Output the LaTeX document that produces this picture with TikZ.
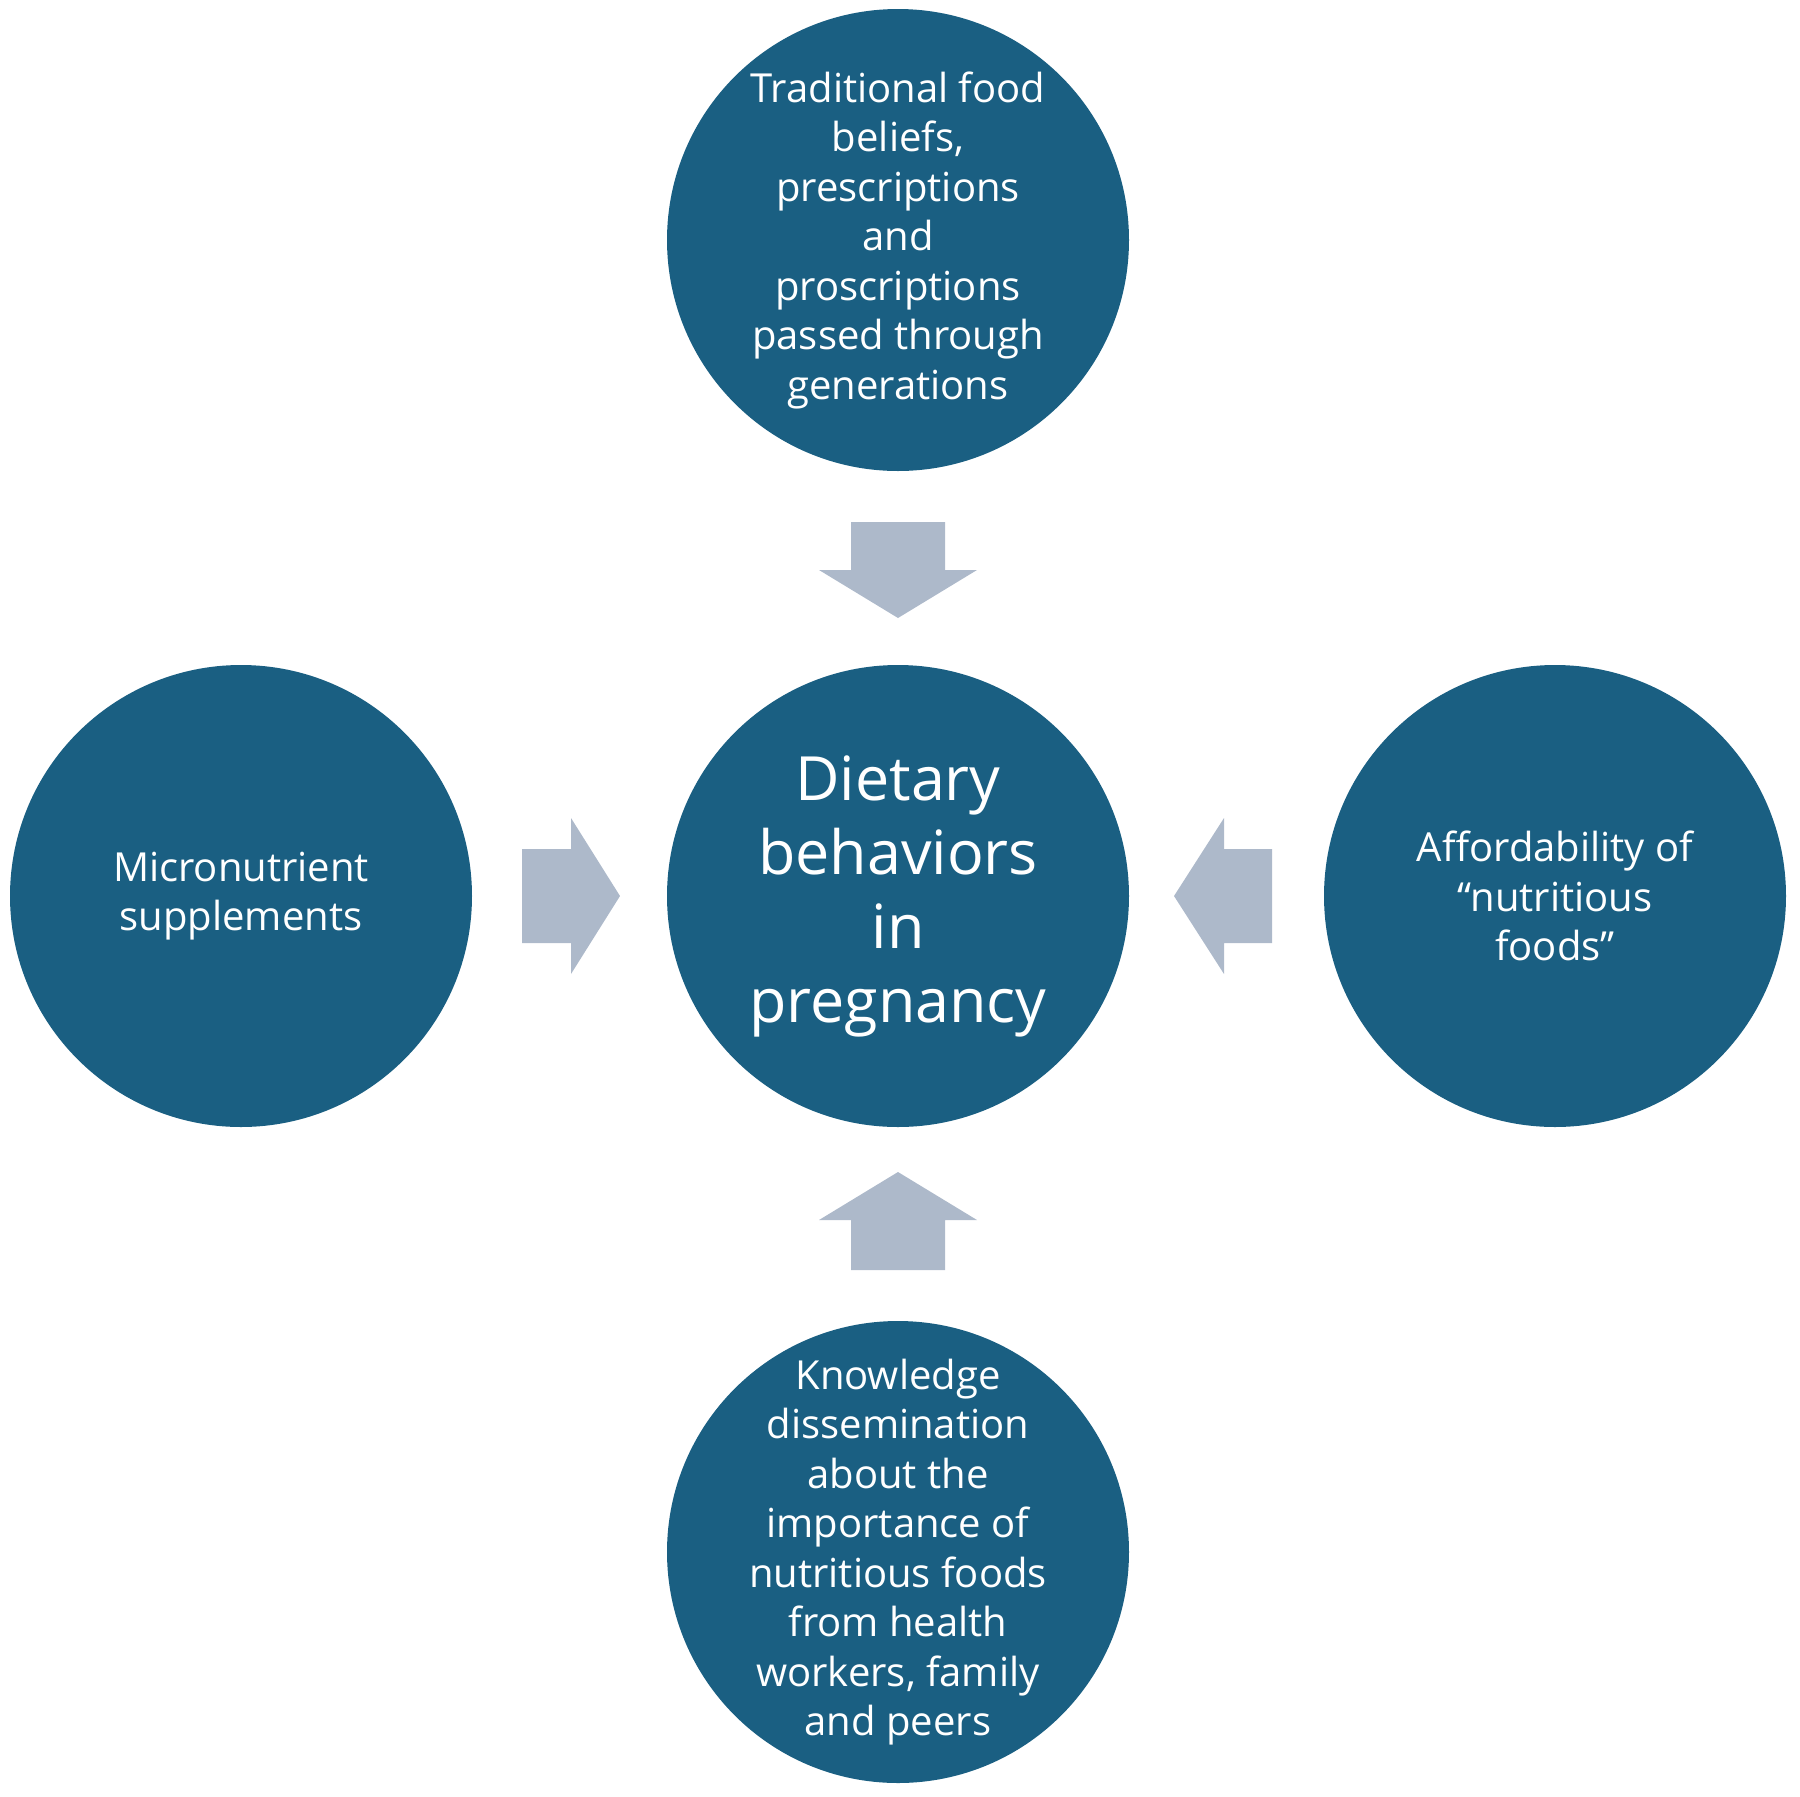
\documentclass[tikz,border=0pt]{standalone}
\usepackage{fontspec}
\setmainfont{Open Sans}
\definecolor{circ}{HTML}{1A5F82}
\definecolor{arr}{HTML}{ADB9CA}
\begin{document}
\begin{tikzpicture}[x=1pt,y=-1pt,
  bubble/.style={circle,fill=circ,minimum size=462pt,inner sep=0pt},
  bubbletext/.style={text=white,align=center,inner sep=0pt,
    font=\fontsize{40}{49.5}\selectfont},
  bigtext/.style={font=\fontsize{61}{74}\selectfont},
  blockarrow/.style={fill=arr}]
\useasboundingbox (0,0) rectangle (1800,1797);
\node[bubble] (top) at (898,240) {};
\node[bubble] (mid) at (898,896) {};
\node[bubble] (left) at (241,896) {};
\node[bubble] (right) at (1555,896) {};
\node[bubble] (bot) at (898,1552) {};
\node[bubbletext] (toptext) at (top) {Traditional food\\beliefs,\\prescriptions\\and\\proscriptions\\passed through\\generations};
\node[bubbletext,bigtext] (midtext) at (mid) {Dietary\\behaviors\\in\\pregnancy};
\node[bubbletext] (lefttext) at (left) {Micronutrient\\supplements};
\node[bubbletext] (righttext) at (right) {Affordability of\\“nutritious\\foods”};
\node[bubbletext] (bottext) at (bot) {Knowledge\\dissemination\\about the\\importance of\\nutritious foods\\from health\\workers, family\\and peers};
% block arrows
\fill[blockarrow] (851,522) -- (945,522) -- (945,570) -- (977,570) -- (898,618) -- (819,570) -- (851,570) -- cycle;
\fill[blockarrow] (851,1270) -- (945,1270) -- (945,1220) -- (977,1220) -- (898,1172) -- (819,1220) -- (851,1220) -- cycle;
\fill[blockarrow] (522,849) -- (522,943) -- (571,943) -- (571,974) -- (620,896) -- (571,818) -- (571,849) -- cycle;
\fill[blockarrow] (1272,849) -- (1272,943) -- (1224,943) -- (1224,974) -- (1174,896) -- (1224,818) -- (1224,849) -- cycle;
\end{tikzpicture}
\end{document}
